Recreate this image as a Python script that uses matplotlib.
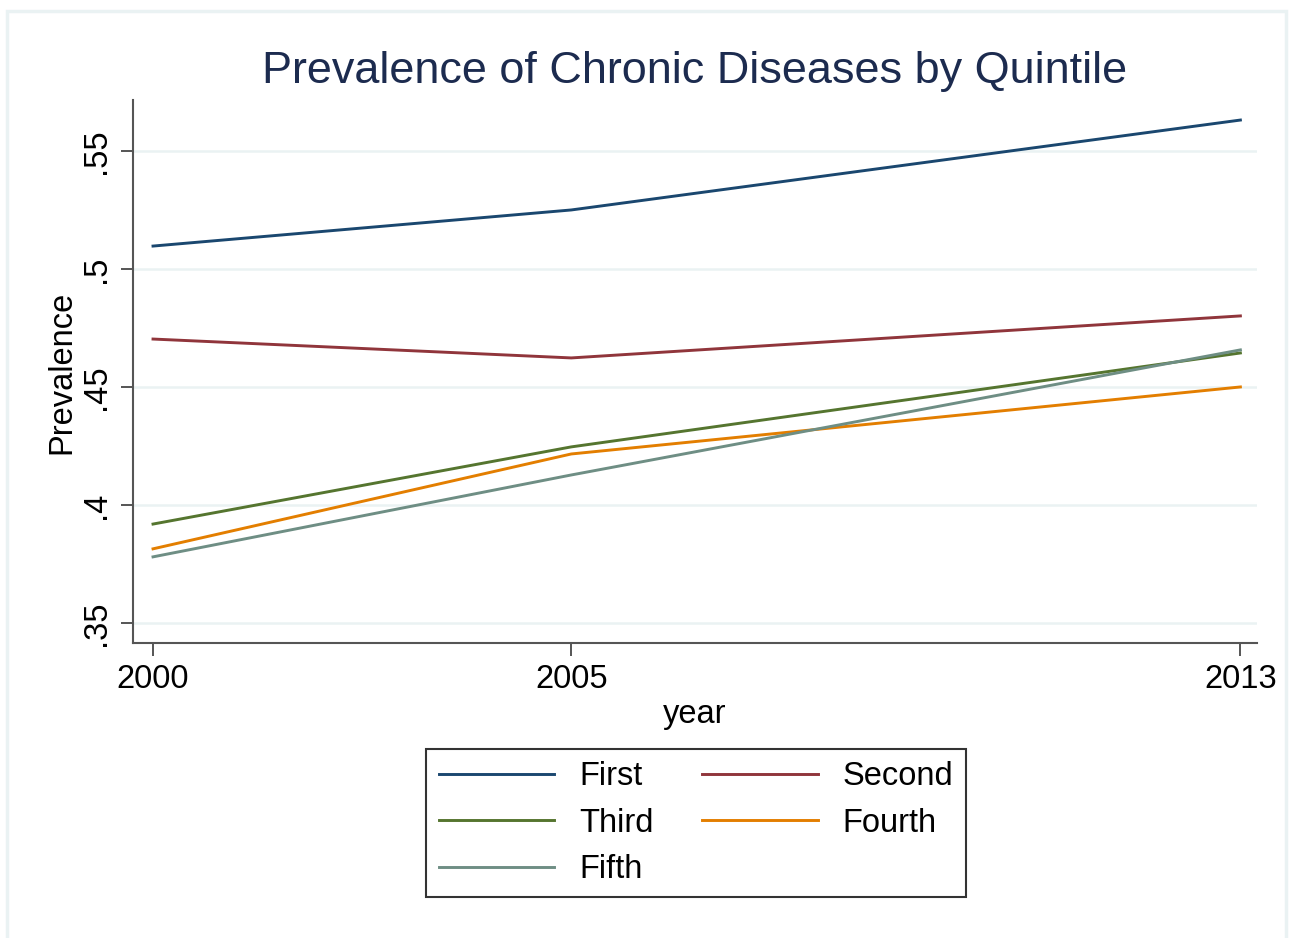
import matplotlib.pyplot as plt
from matplotlib.patches import Rectangle

plt.rcParams['font.family'] = ['Liberation Sans', 'DejaVu Sans']

years = [2000, 2005, 2013]
first = [0.5097, 0.5250, 0.5631]
second = [0.4703, 0.4623, 0.4801]
third = [0.3919, 0.4246, 0.4644]
fourth = [0.3814, 0.4216, 0.4500]
fifth = [0.3780, 0.4127, 0.4657]

names = ['First', 'Second', 'Third', 'Fourth', 'Fifth']
colors = ['#1a476f', '#90353b', '#55752f', '#e37e00', '#6e8e84']
yticks = [0.35, 0.40, 0.45, 0.50, 0.55]
ytick_labels = ['.35', '.4', '.45', '.5', '.55']

fig = plt.figure(figsize=(12.92, 9.38), dpi=100)
fig.patches.append(Rectangle((0.0055, -0.01), 0.99, 0.9985, transform=fig.transFigure,
                             fill=False, edgecolor='#eaf2f3', linewidth=2.5))

ax = fig.add_axes([0.1029, 0.3145, 0.8701, 0.5789])
lines = []
for vals, name, c in zip([first, second, third, fourth, fifth], names, colors):
    ln, = ax.plot(years, vals, color=c, linewidth=2.1, label=name)
    lines.append(ln)

ax.set_xlim(1999.76, 2013.2)
ax.set_ylim(0.3415, 0.5716)
ax.set_xticks(years)
ax.set_yticks(yticks)
ax.set_yticklabels(ytick_labels, rotation=90, va='center')
ax.grid(axis='y', color='#eaf2f3', linewidth=1.8)
ax.set_axisbelow(True)
for s in ['top', 'right']:
    ax.spines[s].set_visible(False)
for s in ['left', 'bottom']:
    ax.spines[s].set_color('#555555')
    ax.spines[s].set_linewidth(1.5)
ax.tick_params(axis='both', length=9, width=1.4, color='#555555', labelsize=23.5, pad=6)

fig.text(0.5379, 1 - 71 / 938, 'Prevalence of Chronic Diseases by Quintile',
         ha='center', va='center', fontsize=32.4, color='#1c2b4f')
fig.text(0.5379, 1 - 714 / 938, 'year', ha='center', va='center', fontsize=23.5)
fig.text(62 / 1292, 1 - 372 / 938, 'Prevalence', ha='center', va='center',
         rotation=90, fontsize=23.5)

# row-wise legend order: First Second / Third Fourth / Fifth
order = [0, 2, 4, 1, 3]
leg = fig.legend([lines[i] for i in order], [names[i] for i in order],
                 loc='upper center', bbox_to_anchor=(0.5387, 1 - 749 / 938), ncol=2,
                 fontsize=23.5, handlelength=3.55, handletextpad=0.75, columnspacing=1.5,
                 labelspacing=0.47, frameon=True, fancybox=False, borderaxespad=0,
                 borderpad=0.38)
leg.get_frame().set_edgecolor('black')
leg.get_frame().set_linewidth(1.5)

fig.savefig('out.png', dpi=100, facecolor='white')
